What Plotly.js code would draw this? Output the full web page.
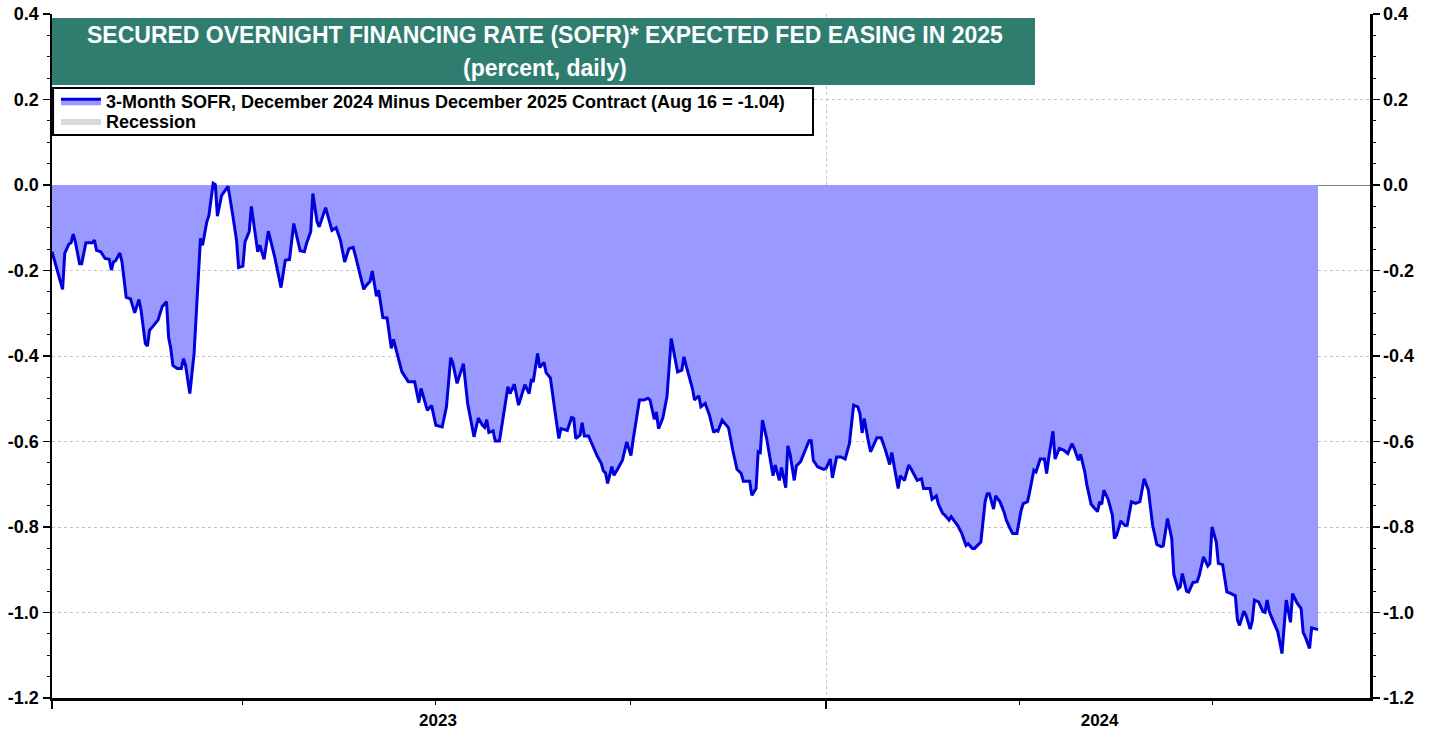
<!DOCTYPE html>
<html><head><meta charset="utf-8">
<script src="https://cdn.plot.ly/plotly-3.0.1.min.js"></script>
<style>html,body{margin:0;padding:0;background:#fff;}#chart{width:1438px;height:731px;}</style>
</head><body><div id="chart"></div>
<script>
const dates = [
'2023-01-01','2023-01-03','2023-01-06','2023-01-07','2023-01-09','2023-01-10','2023-01-11','2023-01-12','2023-01-14','2023-01-15',
'2023-01-17','2023-01-20','2023-01-21','2023-01-22','2023-01-24','2023-01-26','2023-01-28','2023-01-29','2023-01-30','2023-01-31',
'2023-02-02','2023-02-03','2023-02-05','2023-02-07','2023-02-09','2023-02-11','2023-02-12','2023-02-14','2023-02-15','2023-02-16',
'2023-02-19','2023-02-20','2023-02-22','2023-02-24','2023-02-25','2023-02-26','2023-02-27','2023-03-01','2023-03-03','2023-03-04',
'2023-03-05','2023-03-07','2023-03-09','2023-03-10','2023-03-12','2023-03-13','2023-03-15','2023-03-16','2023-03-18','2023-03-19',
'2023-03-20','2023-03-22','2023-03-25','2023-03-27','2023-03-29','2023-03-30','2023-04-01','2023-04-02','2023-04-04','2023-04-05',
'2023-04-07','2023-04-08','2023-04-09','2023-04-11','2023-04-13','2023-04-16','2023-04-19','2023-04-21','2023-04-23','2023-04-25',
'2023-04-28','2023-04-30','2023-05-01','2023-05-03','2023-05-04','2023-05-06','2023-05-07','2023-05-10','2023-05-13','2023-05-15',
'2023-05-17','2023-05-19','2023-05-21','2023-05-23','2023-05-24','2023-05-26','2023-05-28','2023-05-29','2023-05-31','2023-06-01',
'2023-06-03','2023-06-04','2023-06-06','2023-06-08','2023-06-10','2023-06-11','2023-06-13','2023-06-15','2023-06-18','2023-06-21',
'2023-06-23','2023-06-24','2023-06-27','2023-06-29','2023-07-01','2023-07-04','2023-07-06','2023-07-08','2023-07-09','2023-07-11',
'2023-07-14','2023-07-16','2023-07-19','2023-07-21','2023-07-23','2023-07-24','2023-07-25','2023-07-26','2023-07-28','2023-07-29',
'2023-07-31','2023-08-01','2023-08-04','2023-08-05','2023-08-07','2023-08-09','2023-08-11','2023-08-12','2023-08-14','2023-08-15',
'2023-08-16','2023-08-18','2023-08-19','2023-08-21','2023-08-22','2023-08-24','2023-08-26','2023-08-28','2023-08-29','2023-09-01',
'2023-09-03','2023-09-04','2023-09-05','2023-09-07','2023-09-08','2023-09-09','2023-09-11','2023-09-13','2023-09-15','2023-09-17',
'2023-09-18','2023-09-19','2023-09-20','2023-09-22','2023-09-23','2023-09-25','2023-09-27','2023-09-29','2023-10-01','2023-10-02',
'2023-10-05','2023-10-07','2023-10-09','2023-10-10','2023-10-12','2023-10-13','2023-10-14','2023-10-16','2023-10-18','2023-10-20',
'2023-10-23','2023-10-25','2023-10-26','2023-10-27','2023-10-30','2023-10-31','2023-11-02','2023-11-03','2023-11-05','2023-11-07',
'2023-11-09','2023-11-10','2023-11-11','2023-11-13','2023-11-16','2023-11-18','2023-11-20','2023-11-22','2023-11-23','2023-11-26',
'2023-11-27','2023-11-29','2023-11-30','2023-12-01','2023-12-02','2023-12-04','2023-12-07','2023-12-08','2023-12-10','2023-12-11',
'2023-12-13','2023-12-14','2023-12-15','2023-12-17','2023-12-18','2023-12-20','2023-12-22','2023-12-24','2023-12-25','2023-12-26',
'2023-12-28','2023-12-31',
'2024-01-01','2024-01-03','2024-01-04','2024-01-06','2024-01-08','2024-01-10','2024-01-12','2024-01-14','2024-01-16','2024-01-17',
'2024-01-18','2024-01-19','2024-01-21','2024-01-22','2024-01-25','2024-01-27','2024-01-29','2024-01-31','2024-02-01','2024-02-03',
'2024-02-04','2024-02-05','2024-02-07','2024-02-09','2024-02-10','2024-02-13','2024-02-15','2024-02-16','2024-02-19','2024-02-20',
'2024-02-22','2024-02-23','2024-02-25','2024-02-26','2024-02-28','2024-02-29','2024-03-02','2024-03-03','2024-03-05','2024-03-07',
'2024-03-08','2024-03-10','2024-03-11','2024-03-13','2024-03-14','2024-03-16','2024-03-17','2024-03-18','2024-03-20','2024-03-21',
'2024-03-23','2024-03-25','2024-03-26','2024-03-28','2024-03-29','2024-03-31','2024-04-02','2024-04-03','2024-04-05','2024-04-06',
'2024-04-08','2024-04-09','2024-04-11','2024-04-13','2024-04-14','2024-04-15','2024-04-17','2024-04-18','2024-04-20','2024-04-22',
'2024-04-24','2024-04-26','2024-04-27','2024-04-29','2024-04-30','2024-05-02','2024-05-03','2024-05-05','2024-05-08','2024-05-09',
'2024-05-10','2024-05-11','2024-05-13','2024-05-15','2024-05-16','2024-05-17','2024-05-19','2024-05-21','2024-05-22','2024-05-24',
'2024-05-26','2024-05-28','2024-05-30','2024-06-01','2024-06-03','2024-06-05','2024-06-07','2024-06-08','2024-06-10','2024-06-12',
'2024-06-13','2024-06-15','2024-06-16','2024-06-17','2024-06-19','2024-06-20','2024-06-22','2024-06-24','2024-06-25','2024-06-27',
'2024-06-29','2024-06-30','2024-07-01','2024-07-03','2024-07-04','2024-07-06','2024-07-08','2024-07-10','2024-07-12','2024-07-13',
'2024-07-14','2024-07-16','2024-07-17','2024-07-19','2024-07-20','2024-07-21','2024-07-23','2024-07-25','2024-07-26','2024-07-27',
'2024-07-28','2024-07-30','2024-08-01','2024-08-03','2024-08-05','2024-08-07','2024-08-08','2024-08-10','2024-08-12','2024-08-13',
'2024-08-14','2024-08-16','2024-08-17','2024-08-20'
];
const sofrSpread = [
-0.156,-0.191,-0.244,-0.160,-0.138,-0.135,-0.115,-0.133,-0.184,-0.184,
-0.135,-0.135,-0.129,-0.153,-0.156,-0.172,-0.174,-0.199,-0.180,-0.177,
-0.159,-0.180,-0.263,-0.266,-0.299,-0.268,-0.293,-0.371,-0.377,-0.340,
-0.320,-0.316,-0.284,-0.273,-0.357,-0.382,-0.422,-0.429,-0.429,-0.406,
-0.422,-0.488,-0.394,-0.308,-0.125,-0.141,-0.086,-0.071,0.004,0.001,
-0.073,-0.024,-0.003,-0.063,-0.129,-0.193,-0.190,-0.133,-0.109,-0.050,
-0.125,-0.156,-0.141,-0.174,-0.108,-0.168,-0.240,-0.176,-0.174,-0.090,
-0.154,-0.156,-0.137,-0.109,-0.020,-0.086,-0.098,-0.053,-0.106,-0.100,
-0.129,-0.180,-0.149,-0.146,-0.164,-0.207,-0.244,-0.236,-0.225,-0.201,
-0.260,-0.246,-0.310,-0.311,-0.382,-0.361,-0.402,-0.437,-0.460,-0.460,
-0.509,-0.476,-0.527,-0.516,-0.562,-0.566,-0.519,-0.404,-0.416,-0.464,
-0.418,-0.511,-0.589,-0.545,-0.562,-0.567,-0.549,-0.579,-0.575,-0.599,
-0.599,-0.568,-0.472,-0.488,-0.466,-0.515,-0.481,-0.467,-0.488,-0.457,
-0.458,-0.394,-0.427,-0.415,-0.439,-0.451,-0.523,-0.593,-0.570,-0.574,
-0.544,-0.546,-0.593,-0.585,-0.556,-0.587,-0.587,-0.612,-0.633,-0.651,
-0.669,-0.673,-0.698,-0.659,-0.679,-0.662,-0.644,-0.601,-0.633,-0.597,
-0.503,-0.503,-0.499,-0.503,-0.548,-0.531,-0.570,-0.546,-0.495,-0.359,
-0.437,-0.433,-0.402,-0.422,-0.476,-0.503,-0.493,-0.519,-0.511,-0.538,
-0.579,-0.574,-0.576,-0.550,-0.568,-0.620,-0.665,-0.675,-0.693,-0.693,
-0.726,-0.710,-0.624,-0.626,-0.550,-0.593,-0.680,-0.655,-0.691,-0.661,
-0.708,-0.610,-0.628,-0.691,-0.657,-0.647,-0.624,-0.598,-0.598,-0.644,
-0.659,-0.665,
-0.663,-0.641,-0.685,-0.636,-0.636,-0.641,-0.605,-0.515,-0.519,-0.535,
-0.580,-0.546,-0.601,-0.624,-0.591,-0.591,-0.620,-0.654,-0.626,-0.679,
-0.710,-0.680,-0.691,-0.655,-0.663,-0.691,-0.687,-0.710,-0.710,-0.735,
-0.727,-0.747,-0.768,-0.772,-0.784,-0.776,-0.788,-0.796,-0.815,-0.843,
-0.839,-0.850,-0.850,-0.839,-0.835,-0.741,-0.722,-0.722,-0.758,-0.727,
-0.741,-0.766,-0.784,-0.806,-0.815,-0.815,-0.761,-0.745,-0.741,-0.718,
-0.667,-0.671,-0.641,-0.641,-0.675,-0.638,-0.576,-0.641,-0.616,-0.620,
-0.628,-0.605,-0.616,-0.644,-0.630,-0.671,-0.702,-0.747,-0.764,-0.741,
-0.747,-0.714,-0.735,-0.772,-0.827,-0.819,-0.786,-0.797,-0.796,-0.741,
-0.745,-0.741,-0.687,-0.714,-0.796,-0.841,-0.846,-0.844,-0.780,-0.827,
-0.911,-0.944,-0.940,-0.909,-0.950,-0.952,-0.930,-0.928,-0.913,-0.870,
-0.891,-0.885,-0.800,-0.835,-0.885,-0.888,-0.952,-0.956,-0.961,-1.018,
-1.030,-0.997,-1.006,-1.039,-1.020,-0.971,-0.975,-0.998,-1.000,-0.971,
-0.998,-1.022,-1.045,-1.096,-0.971,-1.023,-0.956,-0.977,-0.991,-1.047,
-1.057,-1.084,-1.036,-1.040
];
const yTickVals = [-1.2,-1.0,-0.8,-0.6,-0.4,-0.2,0.0,0.2,0.4];
const yTickText = ['-1.2','-1.0','-0.8','-0.6','-0.4','-0.2','0.0','0.2','0.4'];
const yearLabelDates = ['2023-07-02','2024-05-09'];
const yearLabels = ['2023','2024'];
const seriesName = '3-Month SOFR, December 2024 Minus December 2025 Contract (Aug 16 = -1.04)';
const recessionName = 'Recession';
const titleLine1 = 'SECURED OVERNIGHT FINANCING RATE (SOFR)* EXPECTED FED EASING IN 2025';
const titleLine2 = '(percent, daily)';

const FONT = 'Arial, "Liberation Sans", Helvetica, sans-serif';
const xRange = ['2023-01-01', '2024-09-13 12:00'];
const yRange = [-1.2, 0.4];

const traces = [
  {x: dates, y: sofrSpread, type: 'scatter', mode: 'lines', name: seriesName, legend: 'legend',
   fill: 'tozeroy', fillcolor: '#9999ff', line: {color: '#0000dd', width: 3}},
  {x: [null], y: [null], type: 'scatter', mode: 'lines', name: recessionName, legend: 'legend2',
   fill: 'toself', fillcolor: '#d9d9d9', line: {color: '#d9d9d9', width: 0}},
  {x: [dates[0]], y: [null], xaxis: 'x2', yaxis: 'y', showlegend: false, hoverinfo: 'skip', mode: 'lines'},
  {x: [dates[0]], y: [null], xaxis: 'x', yaxis: 'y2', showlegend: false, hoverinfo: 'skip', mode: 'lines'}
];

const yCommon = {
  range: yRange, tickmode: 'array', tickvals: yTickVals, ticktext: yTickText,
  ticks: 'outside', ticklen: 7, tickwidth: 1.5, tickcolor: '#000',
  showline: true, linewidth: 2.5, linecolor: '#000',
  tickfont: {family: FONT, size: 18, color: '#000', weight: 'bold'},
  minor: {tickmode: 'linear', tick0: 0, dtick: 0.05, ticks: 'outside', ticklen: 3, tickcolor: '#000', tickwidth: 1, showgrid: false},
  fixedrange: true
};

const legendFont = {family: FONT, size: 18, color: '#000', weight: 'bold'};

const layout = {
  width: 1438, height: 731,
  margin: {l: 52, r: 68, t: 14, b: 33},
  paper_bgcolor: '#fff', plot_bgcolor: '#fff',
  font: {family: FONT, color: '#000'},
  showlegend: true,
  legend: {x: 0.003, y: 0.899, xanchor: 'left', yanchor: 'top', bgcolor: 'rgba(0,0,0,0)', borderwidth: 0,
           font: legendFont, itemwidth: 40},
  legend2: {x: 0.003, y: 0.870, xanchor: 'left', yanchor: 'top', bgcolor: 'rgba(0,0,0,0)', borderwidth: 0,
           font: legendFont, itemwidth: 40},
  xaxis: {type: 'date', range: xRange, tickmode: 'linear', tick0: '2023-01-01', dtick: 'M12',
          ticks: 'outside', ticklen: 8, tickwidth: 1.5, tickcolor: '#000', showticklabels: false,
          showgrid: true, gridcolor: '#c4c4c4', griddash: 'dot', gridwidth: 1,
          showline: true, linewidth: 2.5, linecolor: '#000', zeroline: false,
          minor: {tick0: '2023-01-01', dtick: 'M3', ticks: 'outside', ticklen: 4, tickcolor: '#000', tickwidth: 1, showgrid: false},
          fixedrange: true},
  xaxis2: {type: 'date', range: xRange, overlaying: 'x', anchor: 'y', side: 'bottom',
           tickmode: 'array', tickvals: yearLabelDates, ticktext: yearLabels,
           ticks: 'outside', ticklen: 7, tickcolor: 'rgba(0,0,0,0)', showgrid: false, showline: false, zeroline: false,
           tickfont: {family: FONT, size: 17, color: '#000', weight: 'bold'}, fixedrange: true},
  yaxis: Object.assign({}, yCommon, {showgrid: true, gridcolor: '#c4c4c4', griddash: 'dot', gridwidth: 1,
          zeroline: true, zerolinecolor: '#808080', zerolinewidth: 1}),
  yaxis2: Object.assign({}, yCommon, {overlaying: 'y', side: 'right', anchor: 'x', showgrid: false, zeroline: false}),
  shapes: [
    {type: 'rect', xref: 'paper', yref: 'paper', x0: 0, x1: 0.7458, y0: 0.8962, y1: 0.9942,
     fillcolor: '#2e7d6f', line: {width: 0}, layer: 'above'},
    {type: 'rect', xref: 'paper', yref: 'paper', x0: 0.0008, x1: 0.5774, y0: 0.8231, y1: 0.8918,
     fillcolor: '#fff', line: {color: '#000', width: 2}, layer: 'above'}
  ],
  annotations: [
    {xref: 'paper', yref: 'paper', x: 0.374, y: 0.9693, xanchor: 'center', yanchor: 'middle', showarrow: false,
     text: titleLine1, font: {family: FONT, size: 23, color: '#fff', weight: 'bold'}},
    {xref: 'paper', yref: 'paper', x: 0.374, y: 0.9211, xanchor: 'center', yanchor: 'middle', showarrow: false,
     text: titleLine2, font: {family: FONT, size: 23, color: '#fff', weight: 'bold'}}
  ]
};

Plotly.newPlot('chart', traces, layout, {displayModeBar: false, staticPlot: true});
</script>
</body></html>
